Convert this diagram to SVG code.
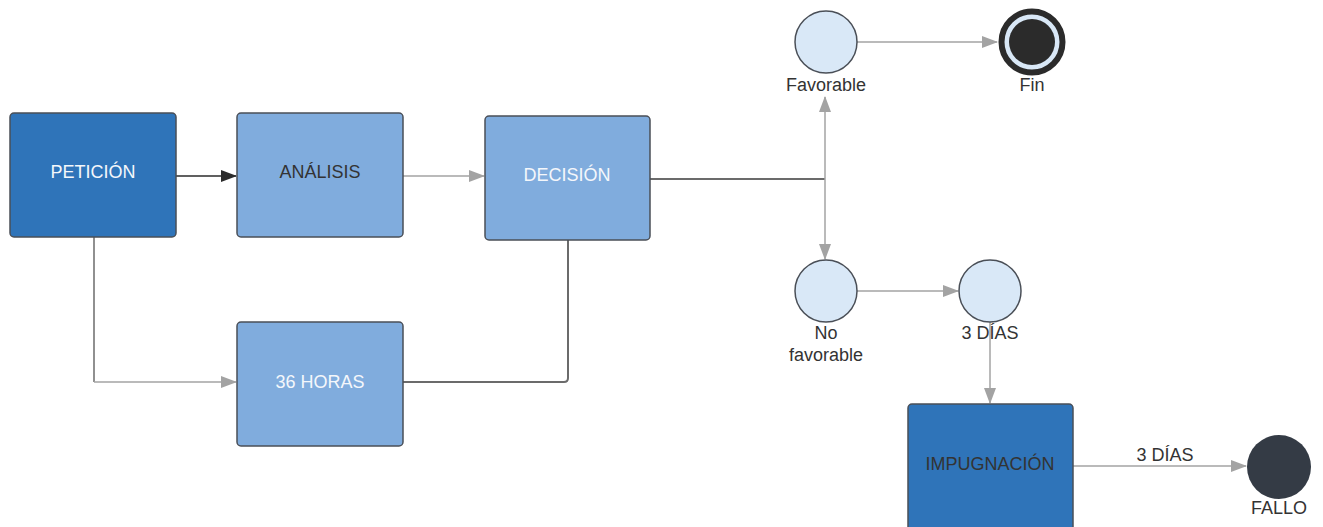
<svg xmlns="http://www.w3.org/2000/svg" width="1323" height="527" viewBox="0 0 1323 527">
<defs>
<style>
text{font-family:"Liberation Sans",Arial,sans-serif;font-size:18px;text-anchor:middle}
.dark{fill:#2f74b9;stroke:#4a4f57;stroke-width:1.5}
.light{fill:#80acdd;stroke:#4a4f57;stroke-width:1.5}
.circ{fill:#d9e8f7;stroke:#4a4f57;stroke-width:1.5}
.wt{fill:#f4f7fb}
.dt{fill:#333333}
.lbl{fill:#333333}
.g{fill:none;stroke:#a3a3a3;stroke-width:1.5}
.gd{fill:none;stroke:#6b6b6b;stroke-width:2}
.k{fill:none;stroke:#2b2b2b;stroke-width:1.5}
</style>
<marker id="ag" markerWidth="16" markerHeight="12" refX="15" refY="6" orient="auto" markerUnits="userSpaceOnUse"><path d="M0,0 L16,6 L0,12 Z" fill="#a3a3a3"/></marker>
<marker id="ak" markerWidth="16" markerHeight="12" refX="15" refY="6" orient="auto" markerUnits="userSpaceOnUse"><path d="M0,0 L16,6 L0,12 Z" fill="#2b2b2b"/></marker>
</defs>
<g id="connectors">
<path class="k" d="M176,176 H236" marker-end="url(#ak)"/>
<path class="g" d="M403,176 H484" marker-end="url(#ag)"/>
<path class="gd" d="M94,237 V382" style="stroke-width:1.5"/>
<path class="g" d="M94,382 H236" marker-end="url(#ag)"/>
<path class="gd" d="M403,382 H564 Q568,382 568,378 V240"/>
<path class="gd" d="M650,179 H825"/>
<path class="g" d="M825,179 V97" marker-end="url(#ag)"/>
<path class="g" d="M825,179 V259" marker-end="url(#ag)"/>
<path class="g" d="M857,42 H997" marker-end="url(#ag)"/>
<path class="g" d="M857,291 H958" marker-end="url(#ag)"/>
<path class="g" d="M990,322 V403" marker-end="url(#ag)"/>
<path class="g" d="M1073,466 H1246" marker-end="url(#ag)"/>
<text x="1165" y="461" class="lbl">3 DÍAS</text>
</g>
<g id="peticion">
<rect class="dark" x="10" y="113" width="166" height="124" rx="4"/>
<text x="93" y="178" class="wt">PETICIÓN</text>
</g>
<g id="analisis">
<rect class="light" x="237" y="113" width="166" height="124" rx="4"/>
<text x="320" y="178" class="dt">ANÁLISIS</text>
</g>
<g id="decision">
<rect class="light" x="485" y="116" width="165" height="124" rx="4"/>
<text x="567" y="181" class="wt">DECISIÓN</text>
</g>
<g id="horas36">
<rect class="light" x="237" y="322" width="166" height="124" rx="4"/>
<text x="320" y="388" class="wt">36 HORAS</text>
</g>
<g id="favorable">
<circle class="circ" cx="826" cy="42" r="31"/>
<text x="826" y="91" class="lbl">Favorable</text>
</g>
<g id="fin">
<circle cx="1032" cy="42" r="30.5" fill="#d9e8f7" stroke="#2b2b2b" stroke-width="6"/>
<circle cx="1032" cy="42" r="23" fill="#2b2b2b"/>
<text x="1032" y="91" class="lbl">Fin</text>
</g>
<g id="nofavorable">
<circle class="circ" cx="826" cy="291" r="31"/>
<text x="826" y="339" class="lbl">No</text>
<text x="826" y="361" class="lbl">favorable</text>
</g>
<g id="dias3">
<circle class="circ" cx="990" cy="291" r="31"/>
<text x="990" y="339" class="lbl">3 DÍAS</text>
</g>
<g id="impugnacion">
<rect class="dark" x="908" y="404" width="165" height="130" rx="4"/>
<text x="990" y="470" class="dt">IMPUGNACIÓN</text>
</g>
<g id="fallo">
<circle cx="1279" cy="467" r="32" fill="#343b45"/>
<text x="1279" y="514" class="lbl">FALLO</text>
</g>
</svg>
